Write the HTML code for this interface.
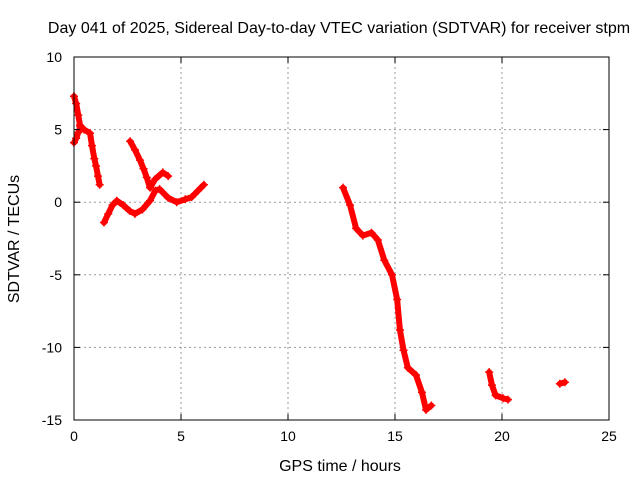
<!DOCTYPE html>
<html><head><meta charset="utf-8"><style>
body{margin:0;background:#fff;}
svg text{font-family:"Liberation Sans",sans-serif;font-size:14px;fill:#000;}
svg text.big{font-size:16px;}
</style></head><body>
<svg id="chart" width="640" height="480">
<text class="big" x="339" y="33" text-anchor="middle">Day 041 of 2025, Sidereal Day-to-day VTEC variation (SDTVAR) for receiver stpm</text>
<text class="big" x="340" y="471" text-anchor="middle">GPS time / hours</text>
<text class="big" transform="translate(19,239) rotate(-90)" text-anchor="middle">SDTVAR / TECUs</text>
<g id="grid"></g><g id="marks"></g><g id="axes"></g>
</svg>
<script>
const xTicks=[0,5,10,15,20,25];
const yTicks=[10,5,0,-5,-10,-15];
const segAx=[0,0.1,0.2,0.28,0.47,0.75,0.84,0.95,1.03,1.12,1.2];
const segAy=[7.3,6.8,6.0,5.3,5.0,4.75,3.9,3.0,2.5,1.8,1.2];
const segA2x=[0,0.1,0.2,0.3];
const segA2y=[4.1,4.4,4.8,5.2];
const segBx=[1.4,1.6,1.8,2.0,2.3,2.6,2.85,3.2,3.55,3.8,4.0,4.4,4.8,5.2,5.5,5.8,6.07];
const segBy=[-1.4,-0.8,-0.2,0.1,-0.2,-0.6,-0.8,-0.5,0.1,0.8,0.9,0.3,0,0.2,0.35,0.8,1.2];
const segCx=[2.62,2.85,3.08,3.25,3.4,3.55,3.8,4.15,4.4];
const segCy=[4.2,3.6,2.9,2.3,1.7,1.0,1.6,2.05,1.8];
const segDx=[12.57,12.9,13.18,13.5,13.9,14.2,14.5,14.86,15.1,15.23,15.4,15.6,15.98,16.26,16.45,16.7];
const segDy=[1.0,-0.2,-1.8,-2.3,-2.1,-2.6,-4.0,-5.0,-6.7,-8.8,-10.2,-11.4,-11.9,-13.1,-14.3,-14.0];
const segEx=[19.4,19.53,19.7,20.05,20.28];
const segEy=[-11.7,-12.6,-13.3,-13.5,-13.6];
const segFx=[22.7,22.94];
const segFy=[-12.5,-12.4];
const L=74,R=609,T=57,B=420;
const sx=v=>L+(v-0)/25*(R-L);
const sy=v=>B-(v+15)/25*(B-T);
const NS='http://www.w3.org/2000/svg';
function mk(tag,attrs,parent){const e=document.createElementNS(NS,tag);for(const k in attrs)e.setAttribute(k,attrs[k]);parent.appendChild(e);return e;}
const grid=document.getElementById('grid'),axes=document.getElementById('axes'),marks=document.getElementById('marks');
mk('rect',{x:L,y:T,width:R-L,height:B-T,fill:'none',stroke:'#000','stroke-width':1},axes);
xTicks.forEach(t=>{const x=sx(t);
 if(t>0&&t<25){const g=mk('line',{x1:x,x2:x,y1:T,y2:B,stroke:'#999','stroke-dasharray':'2,3'},grid);
 
 }
 mk('line',{x1:x,x2:x,y1:B,y2:B-6,stroke:'#000'},axes);mk('line',{x1:x,x2:x,y1:T,y2:T+6,stroke:'#000'},axes);
 const tx=mk('text',{x:x,y:B+21,'text-anchor':'middle'},axes);tx.textContent=t;
 
 });
yTicks.forEach(t=>{const y=sy(t);
 if(t>-15&&t<10){const g=mk('line',{x1:L,x2:R,y1:y,y2:y,stroke:'#999','stroke-dasharray':'2,3'},grid);
 
 }
 mk('line',{x1:L,x2:L+6,y1:y,y2:y,stroke:'#000'},axes);mk('line',{x1:R,x2:R-6,y1:y,y2:y,stroke:'#000'},axes);
 const tx=mk('text',{x:L-12,y:y+5,'text-anchor':'end'},axes);tx.textContent=t;
 
 });
[[segAx,segAy],[segA2x,segA2y],[segBx,segBy],[segCx,segCy],[segDx,segDy],[segEx,segEy],[segFx,segFy]].forEach(([xs,ys])=>{
 const pts=xs.map((v,i)=>sx(v)+','+sy(ys[i])).join(' ');
 const pl=mk('polyline',{points:pts,fill:'none',stroke:'#f00','stroke-width':6,'stroke-linejoin':'round','stroke-linecap':'round'},marks);
 
 
 xs.forEach((v,i)=>{const x=sx(v),y=sy(ys[i]);
  const p=mk('path',{d:`M${x-4},${y}H${x+4}M${x},${y-4}V${y+4}`,stroke:'#f00','stroke-width':1.5},marks);
  
  });
});
</script>
</body></html>
